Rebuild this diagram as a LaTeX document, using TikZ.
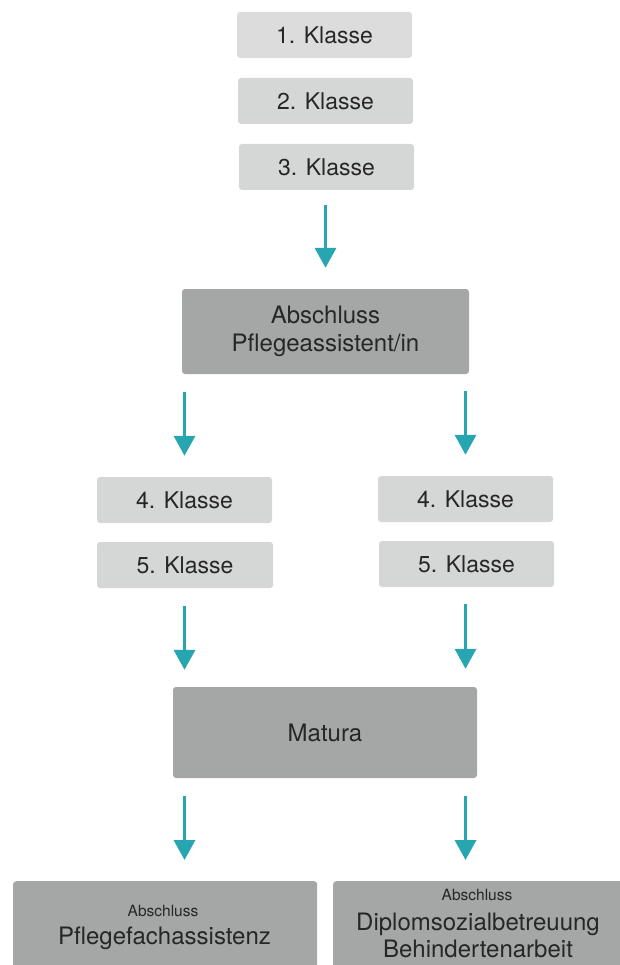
\documentclass[tikz,border=0pt]{standalone}
\usepackage{fontspec}
\setmainfont{TeX Gyre Heros}
\usetikzlibrary{arrows.meta}
\definecolor{boxlight}{HTML}{D5D6D6}
\definecolor{boxlighter}{HTML}{DCDCDC}
\definecolor{boxdark}{HTML}{A5A7A7}
\definecolor{arrowteal}{HTML}{27A6B1}
\definecolor{txt}{HTML}{262626}
\tikzset{
  klasse/.style={rectangle, rounded corners=3pt, fill=boxlight, minimum width=175pt, minimum height=46pt, inner sep=0pt, text=txt, font=\fontsize{23}{27}\selectfont},
  bigbox/.style={rectangle, rounded corners=3pt, fill=boxdark, inner sep=0pt, text=txt, align=center, font=\fontsize{24}{28.5}\selectfont},
  arr/.style={draw=arrowteal, line width=3.5pt, -{Triangle[width=21pt,length=20pt]}, arrowteal},
  txtnode/.style={text=txt, align=center, inner sep=0pt}
}
\begin{document}
\begin{tikzpicture}[x=1pt,y=-1pt]
\useasboundingbox (0,0) rectangle (620,965);
\node[klasse, fill=boxlighter] (k1) at (324.5,35) {1. Klasse};
\node[klasse] (k2) at (325.5,101) {2. Klasse};
\node[klasse] (k3) at (326.5,167) {3. Klasse};
\node[bigbox, minimum width=287pt, minimum height=85pt] (pa) at (325.5,331.5) {Abschluss\\Pflegeassistent/in};
\node[klasse] (l4) at (184.5,500) {4. Klasse};
\node[klasse] (r4) at (465.5,499) {4. Klasse};
\node[klasse, minimum width=176pt] (l5) at (185,565) {5. Klasse};
\node[klasse] (r5) at (466.5,564) {5. Klasse};
\node[bigbox, minimum width=304pt, minimum height=91pt] (mat) at (325,732.5) {Matura};
\node[bigbox, anchor=north west, minimum width=304pt, minimum height=110pt] (bl) at (13,881) {};
\node[bigbox, anchor=north west, minimum width=300pt, minimum height=110pt] (br) at (333,881) {};
\node[txtnode, font=\fontsize{15.5}{18}\selectfont] (blt1) at (163,911) {Abschluss};
\node[txtnode, font=\fontsize{24}{28}\selectfont] (blt2) at (164.5,938) {Pflegefachassistenz};
\node[txtnode, font=\fontsize{15.5}{18}\selectfont] (brt1) at (477,895) {Abschluss};
\node[txtnode, font=\fontsize{24}{27}\selectfont] (brt2) at (478,935) {Diplomsozialbetreuung\\Behindertenarbeit};
\draw[arr, shorten <=15pt, shorten >=21pt] (k3.south -| pa.north) -- (pa.north);
\draw[arr, shorten <=18pt, shorten >=21pt] (pa.south -| l4.north) -- (l4.north);
\draw[arr, shorten <=17pt, shorten >=21pt] (pa.south -| r4.north) -- (r4.north);
\draw[arr, shorten <=18pt, shorten >=17pt] (l5.south -| l4.north) -- (mat.north -| l4.north);
\draw[arr, shorten <=17pt, shorten >=18pt] (r5.south -| r4.north) -- (mat.north -| r4.north);
\draw[arr, shorten <=18pt, shorten >=21pt] (mat.south -| l4.north) -- (bl.north -| l4.north);
\draw[arr, shorten <=18pt, shorten >=21pt] (mat.south -| r4.north) -- (br.north -| r4.north);
\end{tikzpicture}
\end{document}
